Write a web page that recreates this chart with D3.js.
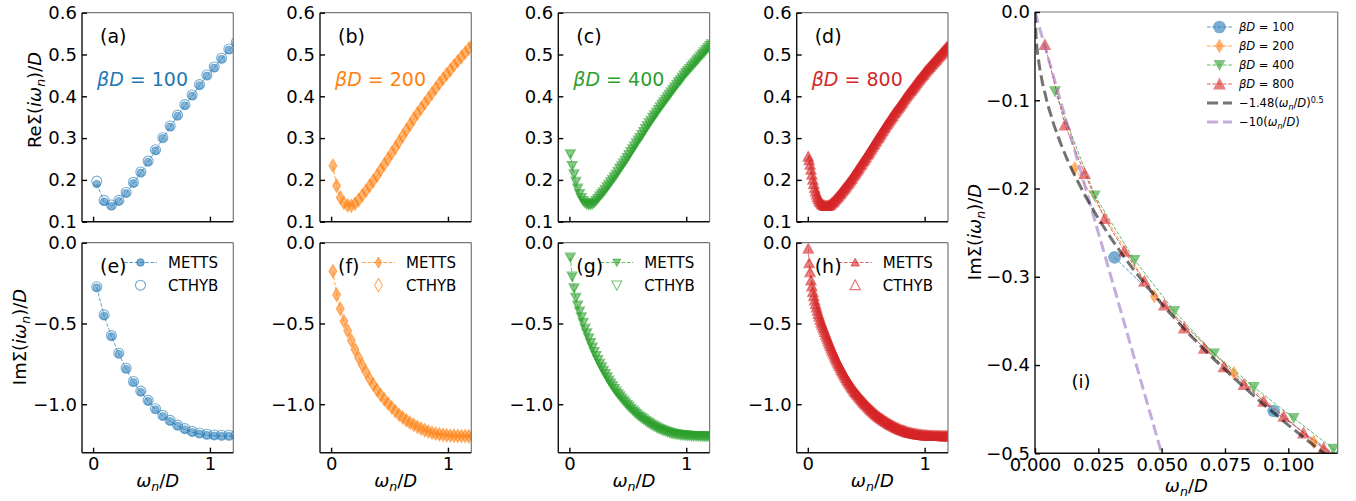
<!DOCTYPE html>
<html><head><meta charset="utf-8">
<script src="https://cdn.jsdelivr.net/npm/d3@7"></script>
<style>body{margin:0;background:#fff}svg text{font-family:"DejaVu Sans",sans-serif}</style>
</head><body><svg id="c" width="1356" height="501"></svg>
<script>
// ---------------- data ----------------
const betaLabels = ["100", "200", "400", "800"];
const colors = ["#1f77b4", "#ff7f0e", "#2ca02c", "#d62728"];
const upperLabels = ["(a)", "(b)", "(c)", "(d)"];
const lowerLabels = ["(e)", "(f)", "(g)", "(h)"];
const upperYTicks = [0.1, 0.2, 0.3, 0.4, 0.5, 0.6];
const lowerYTicks = [0.0, -0.5, -1.0];
const smallXTicks = [0, 1];
const zoomXTicks = [0, 0.025, 0.05, 0.075, 0.1];
const zoomYTicks = [0.0, -0.1, -0.2, -0.3, -0.4, -0.5];

// beta D = 100
const x100 = [0.0314,0.0942,0.1571,0.2199,0.2827,0.3456,0.4084,0.4712,0.5341,0.5969,0.6597,0.7226,0.7854,0.8482,0.9111,0.9739,1.0367,1.0996,1.1624,1.2252];
const re100 = [0.190,0.148,0.1375,0.149,0.168,0.192,0.217,0.243,0.270,0.2995,0.327,0.353,0.378,0.401,0.426,0.449,0.468,0.489,0.511,0.527];
const re100C = [0.197,0.151,0.140,0.151,0.170,0.194,0.219,0.245,0.272,0.301,0.329,0.355,0.380,0.403,0.428,0.451,0.470,0.491,0.513,0.529];
const im100 = [-0.278,-0.452,-0.580,-0.689,-0.782,-0.864,-0.924,-0.981,-1.033,-1.074,-1.105,-1.134,-1.156,-1.173,-1.183,-1.191,-1.195,-1.197,-1.197,-1.197];
const im100C = [-0.273,-0.447,-0.575,-0.684,-0.777,-0.859,-0.919,-0.976,-1.028,-1.069,-1.100,-1.129,-1.151,-1.168,-1.178,-1.186,-1.190,-1.192,-1.192,-1.192];

// beta D = 200
const x200 = [0.0157,0.0471,0.0785,0.1100,0.1414,0.1728,0.2042,0.2356,0.2670,0.2985,0.3299,0.3613,0.3927,0.4241,0.4555,0.4869,0.5184,0.5498,0.5812,0.6126,0.6440,0.6754,0.7069,0.7383,0.7697,0.8011,0.8325,0.8639,0.8954,0.9268,0.9582,0.9896,1.0210,1.0524,1.0838,1.1153,1.1467,1.1781,1.2095];
const re200 = [0.234,0.186,0.158,0.145,0.139,0.138,0.143,0.152,0.163,0.174,0.186,0.198,0.210,0.224,0.237,0.250,0.264,0.277,0.291,0.305,0.319,0.332,0.346,0.359,0.371,0.383,0.395,0.407,0.419,0.431,0.442,0.453,0.463,0.474,0.484,0.494,0.504,0.514,0.523];
const im200 = [-0.177,-0.322,-0.409,-0.487,-0.545,-0.605,-0.661,-0.712,-0.758,-0.801,-0.843,-0.879,-0.912,-0.942,-0.970,-0.996,-1.019,-1.043,-1.064,-1.082,-1.099,-1.114,-1.127,-1.140,-1.151,-1.161,-1.169,-1.176,-1.182,-1.186,-1.189,-1.192,-1.194,-1.195,-1.196,-1.197,-1.197,-1.198,-1.198];

// beta D = 400
const x400 = [0.0079,0.0236,0.0393,0.0550,0.0707,0.0864,0.1021,0.1178,0.1335,0.1492,0.1649,0.1806,0.1963,0.2120,0.2278,0.2435,0.2592,0.2749,0.2906,0.3063,0.3220,0.3377,0.3534,0.3691,0.3848,0.4006,0.4163,0.4320,0.4477,0.4634,0.4791,0.4948,0.5105,0.5262,0.5419,0.5576,0.5733,0.5890,0.6048,0.6205,0.6362,0.6519,0.6676,0.6833,0.6990,0.7147,0.7304,0.7461,0.7619,0.7776,0.7933,0.8090,0.8247,0.8404,0.8561,0.8718,0.8875,0.9032,0.9189,0.9346,0.9503,0.9661,0.9818,0.9975,1.0132,1.0289,1.0446,1.0603,1.0760,1.0917,1.1074,1.1231,1.1388,1.1545,1.1702,1.1859,1.2017,1.2174];
const re400 = [0.262,0.234,0.214,0.196,0.180,0.167,0.157,0.150,0.145,0.142,0.141,0.141,0.142,0.146,0.150,0.155,0.161,0.166,0.171,0.177,0.183,0.189,0.195,0.201,0.207,0.213,0.220,0.227,0.233,0.240,0.246,0.253,0.260,0.267,0.274,0.281,0.288,0.295,0.301,0.308,0.315,0.322,0.329,0.336,0.342,0.349,0.355,0.361,0.368,0.374,0.380,0.386,0.392,0.398,0.404,0.410,0.416,0.422,0.428,0.434,0.439,0.445,0.451,0.456,0.461,0.466,0.471,0.476,0.481,0.486,0.491,0.496,0.501,0.506,0.511,0.516,0.521,0.525];
const im400 = [-0.090,-0.208,-0.281,-0.339,-0.387,-0.425,-0.460,-0.495,-0.530,-0.559,-0.591,-0.620,-0.648,-0.675,-0.700,-0.725,-0.748,-0.770,-0.791,-0.812,-0.832,-0.852,-0.870,-0.887,-0.904,-0.920,-0.935,-0.949,-0.963,-0.977,-0.990,-1.003,-1.015,-1.026,-1.037,-1.048,-1.058,-1.068,-1.077,-1.086,-1.094,-1.102,-1.110,-1.117,-1.124,-1.131,-1.137,-1.143,-1.149,-1.154,-1.159,-1.163,-1.167,-1.171,-1.175,-1.178,-1.181,-1.183,-1.185,-1.187,-1.189,-1.190,-1.191,-1.192,-1.193,-1.194,-1.195,-1.196,-1.196,-1.197,-1.197,-1.197,-1.198,-1.198,-1.198,-1.198,-1.198,-1.198];

// beta D = 800
const x800 = [0.0039,0.0118,0.0196,0.0275,0.0353,0.0432,0.0511,0.0589,0.0668,0.0746,
0.0825,0.0903,0.0982,0.1060,0.1139,0.1217,0.1296,0.1374,0.1453,0.1531,
0.1610,0.1689,0.1767,0.1846,0.1924,0.2003,0.2081,0.2160,0.2238,0.2317,
0.2395,0.2474,0.2553,0.2631,0.2710,0.2788,0.2867,0.2945,0.3024,0.3102,
0.3181,0.3259,0.3338,0.3417,0.3495,0.3574,0.3652,0.3731,0.3809,0.3888,
0.3966,0.4045,0.4123,0.4202,0.4281,0.4359,0.4438,0.4516,0.4595,0.4673,
0.4752,0.4830,0.4909,0.4987,0.5066,0.5145,0.5223,0.5302,0.5380,0.5459,
0.5537,0.5616,0.5694,0.5773,0.5851,0.5930,0.6009,0.6087,0.6166,0.6244,
0.6323,0.6401,0.6480,0.6558,0.6637,0.6715,0.6794,0.6873,0.6951,0.7030,
0.7108,0.7187,0.7265,0.7344,0.7422,0.7501,0.7579,0.7658,0.7737,0.7815,
0.7894,0.7972,0.8051,0.8129,0.8208,0.8286,0.8365,0.8443,0.8522,0.8601,
0.8679,0.8758,0.8836,0.8915,0.8993,0.9072,0.9150,0.9229,0.9307,0.9386,
0.9465,0.9543,0.9622,0.9700,0.9779,0.9857,0.9936,1.0014,1.0093,1.0171,
1.0250,1.0329,1.0407,1.0486,1.0564,1.0643,1.0721,1.0800,1.0878,1.0957,
1.1035,1.1114,1.1193,1.1271,1.1350,1.1428,1.1507,1.1585,1.1664,1.1742,
1.1821,1.1899,1.1978,1.2057,1.2135,1.2214];
const re800 = [0.2555,0.247,0.236,0.224,0.212,0.200,0.190,0.180,0.172,0.165,
0.159,0.154,0.150,0.147,0.144,0.142,0.140,0.139,0.138,0.1375,
0.1375,0.138,0.1385,0.139,0.141,0.143,0.145,0.147,0.149,0.152,
0.154,0.157,0.159,0.162,0.165,0.167,0.170,0.173,0.176,0.179,
0.181,0.184,0.187,0.190,0.193,0.196,0.199,0.202,0.205,0.209,
0.212,0.215,0.218,0.222,0.225,0.228,0.232,0.235,0.238,0.242,
0.245,0.248,0.251,0.255,0.259,0.262,0.265,0.268,0.272,0.275,
0.279,0.283,0.286,0.290,0.293,0.297,0.300,0.303,0.307,0.310,
0.314,0.317,0.321,0.324,0.327,0.331,0.334,0.337,0.340,0.344,
0.347,0.350,0.353,0.357,0.360,0.363,0.366,0.369,0.372,0.375,
0.378,0.381,0.384,0.387,0.391,0.394,0.397,0.400,0.403,0.406,
0.409,0.412,0.414,0.417,0.420,0.423,0.426,0.429,0.432,0.435,
0.438,0.440,0.443,0.446,0.449,0.451,0.454,0.457,0.460,0.462,
0.465,0.467,0.470,0.472,0.475,0.477,0.480,0.482,0.485,0.487,
0.490,0.492,0.495,0.497,0.500,0.502,0.505,0.507,0.510,0.512,
0.515,0.517,0.519,0.522,0.524,0.526];
const im800 = [-0.037,-0.128,-0.183,-0.234,-0.271,-0.305,-0.332,-0.358,-0.381,-0.402,
-0.422,-0.441,-0.458,-0.477,-0.494,-0.508,-0.523,-0.538,-0.553,-0.568,
-0.583,-0.598,-0.612,-0.626,-0.640,-0.654,-0.667,-0.680,-0.693,-0.706,
-0.718,-0.730,-0.742,-0.753,-0.764,-0.775,-0.786,-0.796,-0.807,-0.817,
-0.827,-0.837,-0.847,-0.856,-0.865,-0.874,-0.883,-0.892,-0.900,-0.908,
-0.916,-0.924,-0.931,-0.938,-0.945,-0.952,-0.959,-0.966,-0.973,-0.979,
-0.986,-0.992,-0.998,-1.004,-1.010,-1.016,-1.022,-1.028,-1.034,-1.039,
-1.044,-1.050,-1.055,-1.060,-1.065,-1.070,-1.075,-1.079,-1.083,-1.087,
-1.091,-1.095,-1.099,-1.103,-1.107,-1.110,-1.114,-1.118,-1.121,-1.124,
-1.128,-1.131,-1.134,-1.137,-1.140,-1.143,-1.146,-1.149,-1.151,-1.154,
-1.156,-1.159,-1.161,-1.163,-1.165,-1.167,-1.169,-1.171,-1.173,-1.175,
-1.176,-1.178,-1.179,-1.180,-1.182,-1.183,-1.184,-1.185,-1.186,-1.187,
-1.188,-1.189,-1.190,-1.190,-1.191,-1.192,-1.192,-1.193,-1.193,-1.194,
-1.194,-1.195,-1.195,-1.195,-1.196,-1.196,-1.196,-1.196,-1.197,-1.197,
-1.197,-1.197,-1.197,-1.197,-1.197,-1.198,-1.198,-1.198,-1.198,-1.198,
-1.198,-1.198,-1.198,-1.198,-1.198,-1.198];

// fit curves shown in panel (i)
const fitSqrtX = [0,0.0005,0.001,0.002,0.003,0.005,0.0075,0.01,0.0125,0.015,0.02,0.025,0.03,0.035,0.04,0.05,0.06,0.07,0.08,0.09,0.1,0.11,0.12];
const fitSqrtY = [0,-0.0331,-0.0468,-0.0662,-0.0811,-0.1047,-0.1282,-0.148,-0.1655,-0.1813,-0.2093,-0.234,-0.2563,-0.2769,-0.296,-0.3309,-0.3625,-0.3916,-0.4186,-0.444,-0.468,-0.4909,-0.5127];
const fitLinX = [0, 0.06];
const fitLinY = [0, -0.6];

// ---------------- drawing ----------------
const svg = d3.select("#c");
const TICK = 18;
const series = [
  {x:x100, re:re100, reC:re100C, im:im100, imC:im100C, mk:"o"},
  {x:x200, re:re200, reC:re200, im:im200, imC:im200, mk:"d"},
  {x:x400, re:re400, reC:re400, im:im400, imC:im400, mk:"v"},
  {x:x800, re:re800, reC:re800, im:im800, imC:im800, mk:"u"}
];
const smallM = {o:3.8, d:5.5, v:4.0, u:4.2};
const smallC = {o:5.0, d:6.6, v:5.0, u:5.2};
const bigM = {o:6.3, d:7.3, v:6.0, u:6.4};

function mpath(t, s){
  if(t==="o") return `M${s},0A${s},${s} 0 1,1 ${-s},0A${s},${s} 0 1,1 ${s},0Z`;
  if(t==="d") return `M0,${-s}L${s*0.6},0L0,${s}L${-s*0.6},0Z`;
  if(t==="v") return `M${-s},${-s*0.85}L${s},${-s*0.85}L0,${s}Z`;
  return `M0,${-s}L${s},${s*0.85}L${-s},${s*0.85}Z`;
}

function rich(sel, segs, fs){
  let shift = 0;
  segs.forEach(s=>{
    const ts = sel.append("tspan").text(s.t);
    if(s.it) ts.attr("font-style","italic");
    const target = s.sub ? fs*0.22 : (s.sup ? -fs*0.4 : 0);
    if(target !== shift){ ts.attr("dy", target - shift); shift = target; }
    if(s.sub || s.sup) ts.attr("font-size", fs*0.7);
  });
}
const omegaN = [{t:"ω",it:1},{t:"n",it:1,sub:1},{t:"/"},{t:"D",it:1}];
const reLab = [{t:"ReΣ("},{t:"iω",it:1},{t:"n",it:1,sub:1},{t:")/"},{t:"D",it:1}];
const imLab = [{t:"ImΣ("},{t:"iω",it:1},{t:"n",it:1,sub:1},{t:")/"},{t:"D",it:1}];

let clipId = 0;
function frame(left, top, w, h, xd, yd){
  const x = d3.scaleLinear().domain(xd).range([left, left+w]);
  const y = d3.scaleLinear().domain(yd).range([top+h, top]);
  const id = "clip"+(clipId++);
  svg.append("clipPath").attr("id", id).append("rect").attr("x",left).attr("y",top).attr("width",w).attr("height",h);
  const plot = svg.append("g").attr("clip-path", `url(#${id})`);
  return {x, y, plot, left, top, w, h};
}
function spines(f){
  const g = svg.append("g").attr("fill","none");
  g.append("line").attr("x1",f.left).attr("x2",f.left+f.w).attr("y1",f.top).attr("y2",f.top).attr("stroke","#777").attr("stroke-width",1.2);
  g.append("line").attr("x1",f.left+f.w).attr("x2",f.left+f.w).attr("y1",f.top).attr("y2",f.top+f.h).attr("stroke","#777").attr("stroke-width",1.2);
  g.append("line").attr("x1",f.left).attr("x2",f.left).attr("y1",f.top).attr("y2",f.top+f.h).attr("stroke","#111").attr("stroke-width",1.4);
  g.append("line").attr("x1",f.left).attr("x2",f.left+f.w).attr("y1",f.top+f.h).attr("y2",f.top+f.h).attr("stroke","#111").attr("stroke-width",1.4);
}
function styleAxis(a){
  a.select(".domain").remove();
  a.attr("font-size", null).attr("font-family", null);
  a.selectAll("line").attr("stroke","#000").attr("stroke-width",1.4);
  a.selectAll("text").attr("font-size", TICK).attr("fill","#000");
}
function axes(f, yt, yfmt, xt, xfmt){
  const ay = svg.append("g").attr("transform",`translate(${f.left},0)`)
    .call(d3.axisLeft(f.y).tickValues(yt).tickFormat(yfmt).tickSize(-5).tickPadding(5));
  styleAxis(ay);
  const ax = svg.append("g").attr("transform",`translate(0,${f.top+f.h})`)
    .call(d3.axisBottom(f.x).tickValues(xt).tickFormat(xfmt).tickSize(-5).tickPadding(5));
  styleAxis(ax);
}
function drawSeries(f, xs, ys, ysC, c, mk, sM, sC){
  const line = d3.line().x((d,i)=>f.x(xs[i])).y(d=>f.y(d));
  f.plot.append("path").attr("d", line(ys)).attr("fill","none").attr("stroke",c)
    .attr("stroke-opacity",0.7).attr("stroke-width",1).attr("stroke-dasharray","3.7,1.6");
  f.plot.append("g").selectAll("path").data(ys).join("path")
    .attr("transform",(d,i)=>`translate(${f.x(xs[i])},${f.y(d)})`)
    .attr("d", mpath(mk, sM)).attr("fill", c).attr("fill-opacity",0.55)
    .attr("stroke", c).attr("stroke-opacity",0.55).attr("stroke-width",0.8);
  if(ysC){
    f.plot.append("g").selectAll("path").data(ysC).join("path")
      .attr("transform",(d,i)=>`translate(${f.x(xs[i])},${f.y(d)})`)
      .attr("d", mpath(mk, sC)).attr("fill","none")
      .attr("stroke", c).attr("stroke-opacity",0.6).attr("stroke-width",1.1);
  }
}

const colLeft = [82, 320, 558.3, 796.7];
const PW = 151.3;
const fmt1 = d3.format(".1f");
series.forEach((s, k)=>{
  const c = colors[k];
  const fu = frame(colLeft[k], 12.7, PW, 209, [-0.095, 1.2], [0.1, 0.6]);
  drawSeries(fu, s.x, s.re, s.reC, c, s.mk, smallM[s.mk], smallC[s.mk]);
  spines(fu);
  axes(fu, upperYTicks, fmt1, smallXTicks, ()=>"");
  svg.append("text").attr("x", fu.left+18).attr("y", fu.top+30).attr("font-size",19).text(upperLabels[k]);
  const bt = svg.append("text").attr("x", fu.left+15).attr("y", fu.top+73.5).attr("font-size",19).attr("fill", c);
  rich(bt, [{t:"β",it:1},{t:"D",it:1},{t:" = "+betaLabels[k]}], 19);

  const fl = frame(colLeft[k], 242.7, PW, 210, [-0.095, 1.2], [-1.3, 0]);
  drawSeries(fl, s.x, s.im, s.imC, c, s.mk, smallM[s.mk], smallC[s.mk]);
  spines(fl);
  axes(fl, lowerYTicks, fmt1, smallXTicks, d3.format("d"));
  const lg = svg.append("g");
  const ly1 = fl.top+19.8, ly2 = fl.top+42.5, hx0 = fl.left+42, hx1 = fl.left+75, hm = fl.left+58.5;
  lg.append("line").attr("x1",hx0).attr("x2",hx1).attr("y1",ly1).attr("y2",ly1).attr("stroke",c)
    .attr("stroke-opacity",0.7).attr("stroke-dasharray","3.7,1.6");
  lg.append("path").attr("transform",`translate(${hm},${ly1})`).attr("d", mpath(s.mk, smallM[s.mk]))
    .attr("fill",c).attr("fill-opacity",0.6).attr("stroke",c).attr("stroke-opacity",0.6);
  lg.append("path").attr("transform",`translate(${hm},${ly2})`).attr("d", mpath(s.mk, smallC[s.mk]))
    .attr("fill","none").attr("stroke",c).attr("stroke-opacity",0.65).attr("stroke-width",1.1);
  lg.append("text").attr("x", fl.left+86).attr("y", ly1).attr("dy","0.36em").attr("font-size",15).text("METTS");
  lg.append("text").attr("x", fl.left+86).attr("y", ly2).attr("dy","0.36em").attr("font-size",15).text("CTHYB");
  svg.append("text").attr("x", fl.left+18).attr("y", fl.top+30).attr("font-size",19).text(lowerLabels[k]);
  const xl = svg.append("text").attr("x", fl.left+PW/2).attr("y", 487).attr("text-anchor","middle").attr("font-size",18);
  rich(xl, omegaN, 18);
});
const yl1 = svg.append("text").attr("transform","translate(41,100) rotate(-90)").attr("text-anchor","middle").attr("font-size",18);
rich(yl1, reLab, 18);
const yl2 = svg.append("text").attr("transform","translate(26,337) rotate(-90)").attr("text-anchor","middle").attr("font-size",18);
rich(yl2, imLab, 18);

// ---------------- panel (i) ----------------
const fi = frame(1035, 12, 302.7, 441.3, [0, 0.1195], [-0.5, 0]);
series.forEach((s,k)=>{
  const line = d3.line().x((d,i)=>fi.x(s.x[i])).y(d=>fi.y(d));
  fi.plot.append("path").attr("d", line(s.im)).attr("fill","none").attr("stroke",colors[k])
    .attr("stroke-opacity",0.75).attr("stroke-width",1).attr("stroke-dasharray","3.7,1.6");
  fi.plot.append("g").selectAll("path").data(s.im).join("path")
    .attr("transform",(d,i)=>`translate(${fi.x(s.x[i])},${fi.y(d)})`)
    .attr("d", mpath(s.mk, bigM[s.mk])).attr("fill", colors[k]).attr("fill-opacity",0.6);
});
const lineXY = (xs)=>d3.line().x((d,i)=>fi.x(xs[i])).y(d=>fi.y(d));
fi.plot.append("path").attr("d", lineXY(fitLinX)(fitLinY)).attr("fill","none").attr("stroke","#9467bd")
  .attr("stroke-opacity",0.55).attr("stroke-width",3).attr("stroke-dasharray","11.1,4.8");
fi.plot.append("path").attr("d", lineXY(fitSqrtX)(fitSqrtY)).attr("fill","none").attr("stroke","#000")
  .attr("stroke-opacity",0.55).attr("stroke-width",3).attr("stroke-dasharray","11.1,4.8");
spines(fi);
axes(fi, zoomYTicks, fmt1, zoomXTicks, d3.format(".3f"));
svg.append("text").attr("x", 1071.5).attr("y", 388).attr("font-size",18).text("(i)");
const xli = svg.append("text").attr("x", 1035+302.7/2).attr("y", 492).attr("text-anchor","middle").attr("font-size",18);
rich(xli, omegaN, 18);
const yli = svg.append("text").attr("transform","translate(981,232) rotate(-90)").attr("text-anchor","middle").attr("font-size",18);
rich(yli, imLab, 18);

const LF = 11.5;
const legRows = [27, 46, 65, 84, 103, 122];
const lx0 = 1207, lx1 = 1232, lxm = 1219.5, ltx = 1239;
series.forEach((s,k)=>{
  const yy = legRows[k];
  svg.append("line").attr("x1",lx0).attr("x2",lx1).attr("y1",yy).attr("y2",yy).attr("stroke",colors[k])
    .attr("stroke-opacity",0.75).attr("stroke-dasharray","3.7,1.6");
  svg.append("path").attr("transform",`translate(${lxm},${yy})`).attr("d", mpath(s.mk, bigM[s.mk]))
    .attr("fill",colors[k]).attr("fill-opacity",0.6);
  const t = svg.append("text").attr("x", ltx).attr("y", yy).attr("dy","0.36em").attr("font-size",LF);
  rich(t, [{t:"β",it:1},{t:"D",it:1},{t:" = "+betaLabels[k]}], LF);
});
svg.append("line").attr("x1",lx0).attr("x2",lx1).attr("y1",legRows[4]).attr("y2",legRows[4]).attr("stroke","#000")
  .attr("stroke-opacity",0.55).attr("stroke-width",3).attr("stroke-dasharray","11.1,4.8");
svg.append("line").attr("x1",lx0).attr("x2",lx1).attr("y1",legRows[5]).attr("y2",legRows[5]).attr("stroke","#9467bd")
  .attr("stroke-opacity",0.55).attr("stroke-width",3).attr("stroke-dasharray","11.1,4.8");
const t5 = svg.append("text").attr("x", ltx).attr("y", legRows[4]).attr("dy","0.36em").attr("font-size",LF);
rich(t5, [{t:"−1.48("},{t:"ω",it:1},{t:"n",it:1,sub:1},{t:"/"},{t:"D",it:1},{t:")"},{t:"0.5",sup:1}], LF);
const t6 = svg.append("text").attr("x", ltx).attr("y", legRows[5]).attr("dy","0.36em").attr("font-size",LF);
rich(t6, [{t:"−10("},{t:"ω",it:1},{t:"n",it:1,sub:1},{t:"/"},{t:"D",it:1},{t:")"}], LF);
</script>
</body></html>
